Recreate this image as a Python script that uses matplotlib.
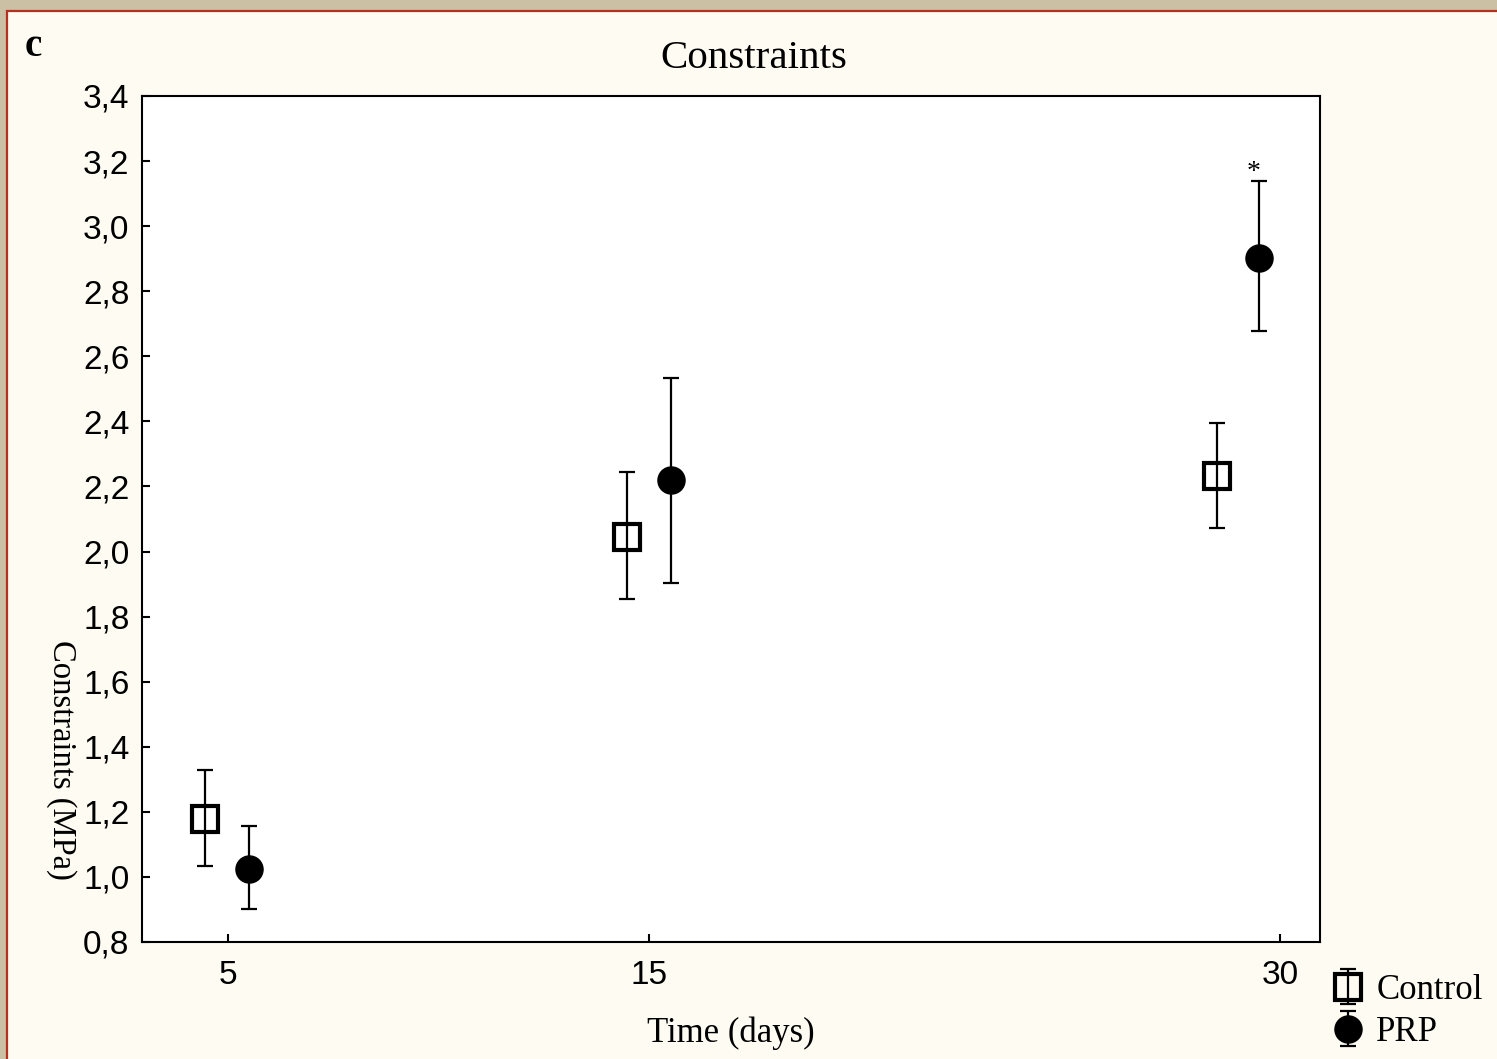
import matplotlib
matplotlib.use("Agg")
import matplotlib.pyplot as plt
from matplotlib.patches import Rectangle
from matplotlib.ticker import FuncFormatter, FixedLocator

#======================================================================
### data
#======================================================================
days = [5, 15, 30]
control_x = [4.45, 14.48, 28.5]
prp_x = [5.5, 15.52, 29.5]

control_mean = [1.178, 2.045, 2.232]
control_low = [1.034, 1.854, 2.072]
control_high = [1.329, 2.245, 2.395]

prp_mean = [1.025, 2.220, 2.902]
prp_low = [0.902, 1.903, 2.678]
prp_high = [1.157, 2.533, 3.139]

y_ticks = [0.8, 1.0, 1.2, 1.4, 1.6, 1.8, 2.0, 2.2, 2.4, 2.6, 2.8, 3.0, 3.2, 3.4]

serif = "Liberation Serif"
sans = "Liberation Sans"

#======================================================================
### figure + background
#======================================================================
W, H = 1497, 1059
fig = plt.figure(figsize=(W / 100, H / 100), dpi=100, facecolor="#CBBFA4")

# cream page with thin red edge
fig.patches.append(Rectangle((7 / W, -0.02), 1.05, 1.02 - 11 / H,
                             transform=fig.transFigure, facecolor="#FDFBF2",
                             edgecolor="#B3321F", linewidth=1.6, zorder=-10))

ax = fig.add_axes([142 / W, 1 - 942 / H, (1320 - 142) / W, (942 - 96) / H])
ax.set_facecolor("white")

def errs(mean, low, high):
    return [[m - l for m, l in zip(mean, low)], [h - m for m, h in zip(mean, high)]]

ctrl = ax.errorbar(control_x, control_mean, yerr=errs(control_mean, control_low, control_high),
                   fmt="s", ms=18.5, mfc="none", mec="black",
                   ecolor="black", elinewidth=1.6, capsize=6, capthick=1.6, label="Control")
ctrl[0].set_markeredgewidth(3.0)
prp = ax.errorbar(prp_x, prp_mean, yerr=errs(prp_mean, prp_low, prp_high),
                  fmt="o", ms=19.5, mfc="black", mec="black",
                  ecolor="black", elinewidth=1.6, capsize=6, capthick=1.6, label="PRP")

ax.text(29.38, 3.165, "*", family=serif, fontsize=20, ha="center", va="center")

ax.set_xlim(2.95, 30.95)
ax.set_ylim(0.8, 3.4)
ax.xaxis.set_major_locator(FixedLocator(days))
ax.yaxis.set_major_locator(FixedLocator(y_ticks))
ax.yaxis.set_major_formatter(FuncFormatter(lambda v, p: ("%.1f" % v).replace(".", ",")))

for s in ax.spines.values():
    s.set_linewidth(1.5)
ax.tick_params(direction="in", length=6, width=1.5, labelsize=24)
ax.tick_params(axis="y", pad=9)
ax.tick_params(axis="x", pad=13)
for lab in ax.get_xticklabels() + ax.get_yticklabels():
    lab.set_family(sans)

ax.set_xlabel("Time (days)", family=serif, fontsize=25, labelpad=18)
ax.set_ylabel("Constraints (MPa)", family=serif, fontsize=23.5, rotation=270, va="center")
ax.yaxis.set_label_coords(-0.068, 0.215)

fig.text(754 / W, 1 - 58 / H, "Constraints", family=serif, fontsize=29.5,
         ha="center", va="center")
fig.text(33 / W, 1 - 47 / H, "c", family=serif, fontsize=28, fontweight="bold",
         ha="center", va="center")

fig.legend(handles=[ctrl, prp], loc="upper left", bbox_to_anchor=(1331 / W, 1 - 974 / H),
           frameon=False, prop={"family": serif, "size": 25}, handlelength=1.0,
           handletextpad=0.3, labelspacing=0.25, borderpad=0, borderaxespad=0)

fig.savefig("out.png", dpi=100, facecolor=fig.get_facecolor())
